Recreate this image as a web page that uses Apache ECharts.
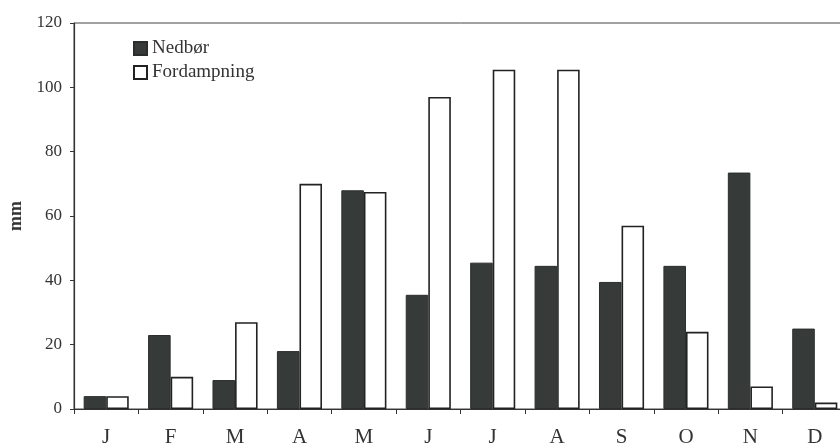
<!DOCTYPE html>
<html>
<head>
<meta charset="utf-8">
<script src="https://cdn.jsdelivr.net/npm/echarts@6/dist/echarts.min.js"></script>
<style>
html,body{margin:0;padding:0;background:#fff;overflow:hidden;width:840px;height:447px;}
#c{width:848px;height:447px;}
</style>
</head>
<body>
<div id="c"></div>
<script>
const months = ['J','F','M','A','M','J','J','A','S','O','N','D'];
const nedbor = [4, 23, 9, 18, 68, 35.5, 45.5, 44.5, 39.5, 44.5, 73.5, 25];
const fordampning = [4, 10, 27, 70, 67.5, 97, 105.5, 105.5, 57, 24, 7, 2];
const yTicks = [0, 20, 40, 60, 80, 100, 120];

const serif = '"Liberation Serif", "DejaVu Serif", serif';
const chart = echarts.init(document.getElementById('c'), null, {renderer:'canvas'});
chart.setOption({
  animation:false,
  backgroundColor:'#fff',
  grid:{left:74, right:1, top:23, bottom:38, show:true, borderColor:'#444', borderWidth:1,
        backgroundColor:'transparent', containLabel:false, outerBoundsMode:'none'},
  legend:{
    orient:'vertical', left:128, top:34, itemWidth:13, itemHeight:13, itemGap:5,
    icon:'rect',
    textStyle:{fontFamily:serif, fontSize:19, color:'#333'},
    data:['Nedbør','Fordampning']
  },
  xAxis:{
    type:'category', data:months,
    axisLine:{lineStyle:{color:'#333', width:1.2}},
    axisTick:{show:true, length:5, lineStyle:{color:'#333'}},
    axisLabel:{fontFamily:serif, fontSize:21, color:'#333', margin:18},
    splitLine:{show:false}
  },
  yAxis:{
    type:'value', min:0, max:120, interval:20,
    name:'mm', nameLocation:'middle', nameGap:47, nameRotate:90,
    nameTextStyle:{fontFamily:serif, fontSize:18, fontWeight:'bold', color:'#333'},
    axisLine:{show:true, lineStyle:{color:'#333', width:1.2}},
    axisTick:{show:true, length:4, lineStyle:{color:'#333'}},
    axisLabel:{fontFamily:serif, fontSize:17, color:'#333', margin:12,
      formatter:function(v){return yTicks.indexOf(v)>=0 ? String(v) : '';}},
    splitLine:{show:false}
  },
  series:[
    {name:'Nedbør', type:'bar', data:nedbor, barGap:'0%', barCategoryGap:'30%',
     itemStyle:{color:'#363b39', borderColor:'#2a2d2c', borderWidth:1}},
    {name:'Fordampning', type:'bar', data:fordampning, barGap:'0%', barCategoryGap:'30%',
     itemStyle:{color:'#fff', borderColor:'#222', borderWidth:1.6}}
  ]
});
</script>
</body>
</html>
